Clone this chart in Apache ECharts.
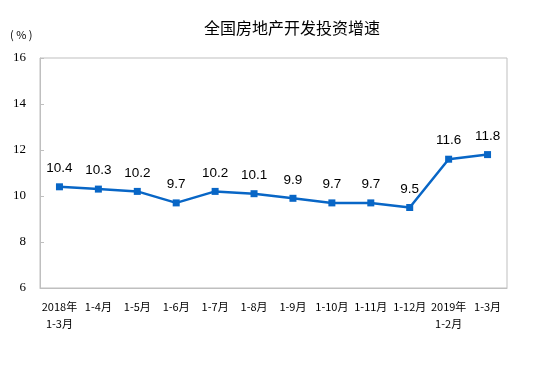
<!DOCTYPE html>
<html><head><meta charset="utf-8">
<script src="https://cdn.jsdelivr.net/npm/echarts@6/dist/echarts.min.js"></script>
<style>html,body{margin:0;padding:0;background:#fff}#c{width:554px;height:367px}</style>
</head><body><div id="c"></div>
<script>
const categories = ['2018年\n1-3月','1-4月','1-5月','1-6月','1-7月','1-8月','1-9月','1-10月','1-11月','1-12月','2019年\n1-2月','1-3月'];
const values = [10.4,10.3,10.2,9.7,10.2,10.1,9.9,9.7,9.7,9.5,11.6,11.8];
const yTicks = [6,8,10,12,14,16];
const chart = echarts.init(document.getElementById('c'));
chart.setOption({
  animation:false,
  backgroundColor:'#fff',
  title:{text:'全国房地产开发投资增速',left:199,top:15,padding:[5,5],textStyle:{fontFamily:'Noto Sans CJK SC',fontSize:16,fontWeight:'normal',color:'#000'}},
  graphic:[{type:'text',left:10,top:29,style:{text:'( % )',font:'11px "Noto Sans CJK SC"',fill:'#000'}}],
  grid:{left:40,right:47,top:58,bottom:79,show:true,borderColor:'#bfbfbf',borderWidth:1},
  xAxis:{type:'category',data:categories,boundaryGap:true,
    axisLine:{lineStyle:{color:'#bfbfbf'}},
    axisTick:{inside:true,length:4,lineStyle:{color:'#bfbfbf'}},
    axisLabel:{color:'#000',fontFamily:'Noto Sans CJK SC',fontSize:11,margin:10,lineHeight:17,interval:0}},
  yAxis:{type:'value',min:6,max:16,interval:2,
    axisLine:{show:true,lineStyle:{color:'#bfbfbf'}},
    axisTick:{show:true,inside:true,length:4,lineStyle:{color:'#bfbfbf'}},
    splitLine:{show:false},
    axisLabel:{color:'#000',fontFamily:'Liberation Serif',fontSize:13,margin:14,
      formatter:v=>yTicks.includes(v)?String(v):''}},
  series:[{type:'line',data:values,symbol:'rect',symbolSize:7,
    lineStyle:{color:'#0866c6',width:2.5},itemStyle:{color:'#0866c6'},
    label:{show:true,position:'top',distance:8,color:'#000',fontFamily:'Liberation Sans',fontSize:13.5,formatter:p=>p.value.toFixed(1)}}]
});
</script></body></html>
